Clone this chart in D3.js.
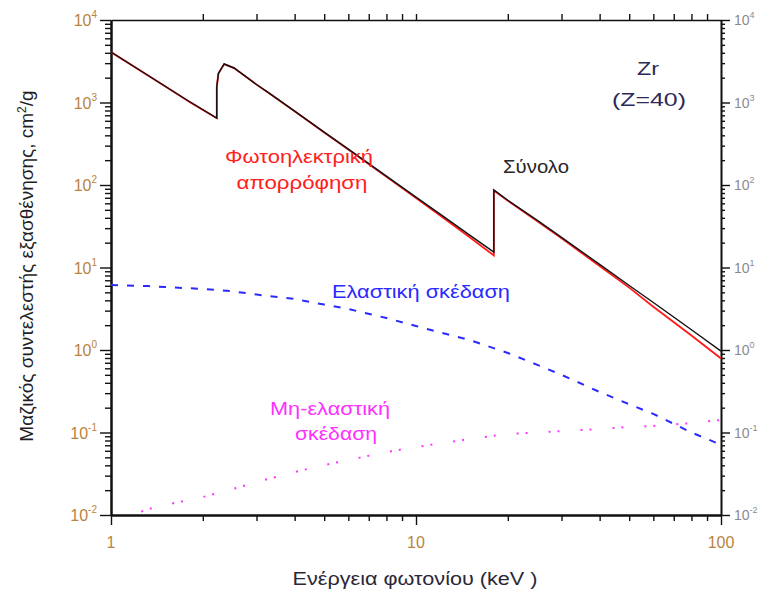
<!DOCTYPE html>
<html>
<head>
<meta charset="utf-8">
<script src="https://cdn.jsdelivr.net/npm/d3@7"></script>
<style>
  html, body { margin: 0; padding: 0; background: #fff; }
  svg { display: block; }
  text { font-family: "Liberation Sans", Arial, sans-serif; }
</style>
</head>
<body>
<div id="chart"></div>
<script>
// ---------- Data ----------
// Photon energy (keV) for photoelectric / total curves (edges repeated)
const energyPE = [1, 1.5, 1.816, 2.222, 2.222, 2.25, 2.35, 2.532, 3, 3.3, 4, 5, 6, 8, 10, 12, 15, 17.998, 17.998, 20, 25, 30, 40, 50, 60, 80, 100];
// Photoelectric absorption (cm^2/g)
const photoelectric = [4080, 1580, 1010, 645, 1535, 2243, 2922, 2612, 1647, 1295, 783, 434, 269, 125.5, 69.3, 42.7, 23.3, 14.0, 85.8, 64.5, 36.3, 22.6, 10.4, 5.7, 3.35, 1.5, 0.79];
// Total attenuation (cm^2/g)
const totalAtt = [4090, 1585, 1014, 649, 1542, 2250, 2930, 2620, 1652, 1300, 787, 438, 272, 128, 71.3, 44.3, 24.7, 15.4, 87, 65.3, 37.3, 23.2, 10.9, 6.06, 3.76, 1.76, 0.97];

// Photon energy (keV) for scattering curves
const energyScat = [1, 1.33, 1.5, 2, 2.5, 3, 4, 5, 6, 8, 10, 15, 20, 25, 30, 40, 50, 60, 80, 100];
// Elastic (coherent) scattering
const elastic = [6.14, 5.95, 5.8, 5.5, 5.15, 4.7, 4.15, 3.55, 3.14, 2.44, 1.95, 1.32, 0.92, 0.66, 0.5, 0.31, 0.22, 0.168, 0.1, 0.071];
// Inelastic (incoherent) scattering
const inelastic = [0.0082, 0.0118, 0.0132, 0.0165, 0.0206, 0.0251, 0.0332, 0.0403, 0.0464, 0.058, 0.0667, 0.0834, 0.096, 0.1, 0.104, 0.11, 0.117, 0.12, 0.13, 0.142];

// Tick labels
const xTickValues = [1, 10, 100];
const xTickLabels = ["1", "10", "100"];
const yTickExponents = [-2, -1, 0, 1, 2, 3, 4];

// ---------- Layout ----------
const W = 765, H = 593;
const pL = 111, pR = 721, pT = 20, pB = 515;

const svg = d3.select("#chart").append("svg")
  .attr("width", W).attr("height", H);

const x = d3.scaleLog().domain([1, 100]).range([pL, pR]);
const y = d3.scaleLog().domain([0.01, 10000]).range([pB, pT]);

// minor / major ticks
const xMinor = [];
for (let d = 1; d < 100; d *= 10) for (let m = 2; m <= 9; m++) xMinor.push(d * m);
const yMinor = [];
yTickExponents.slice(0, -1).forEach(e => { for (let m = 2; m <= 9; m++) yMinor.push(m * Math.pow(10, e)); });
const yMajor = yTickExponents.map(e => Math.pow(10, e));

function styleAxis(g, w) {
  g.selectAll("path.domain").attr("stroke", "#111").attr("stroke-width", w);
  g.selectAll(".tick line").attr("stroke", "#111").attr("stroke-width", 1.4);
  g.selectAll(".tick text").remove();
}

// Left axis
svg.append("g").attr("transform", `translate(${pL},0)`)
  .call(d3.axisLeft(y).tickValues(yMinor).tickSize(6).tickSizeOuter(0).tickFormat(""))
  .call(g => styleAxis(g, 2));
svg.append("g").attr("transform", `translate(${pL},0)`)
  .call(d3.axisLeft(y).tickValues(yMajor).tickSize(11).tickSizeOuter(0).tickFormat(""))
  .call(g => styleAxis(g, 2));
// Right axis
svg.append("g").attr("transform", `translate(${pR},0)`)
  .call(d3.axisRight(y).tickValues(yMinor).tickSize(4).tickSizeOuter(0).tickFormat(""))
  .call(g => styleAxis(g, 1.6));
svg.append("g").attr("transform", `translate(${pR},0)`)
  .call(d3.axisRight(y).tickValues(yMajor).tickSize(9).tickSizeOuter(0).tickFormat(""))
  .call(g => styleAxis(g, 1.6));
// Bottom axis
svg.append("g").attr("transform", `translate(0,${pB})`)
  .call(d3.axisBottom(x).tickValues(xMinor).tickSize(6).tickSizeOuter(0).tickFormat(""))
  .call(g => styleAxis(g, 2));
svg.append("g").attr("transform", `translate(0,${pB})`)
  .call(d3.axisBottom(x).tickValues(xTickValues).tickSize(10).tickSizeOuter(0).tickFormat(""))
  .call(g => styleAxis(g, 2));
// Top axis
svg.append("g").attr("transform", `translate(0,${pT})`)
  .call(d3.axisTop(x).tickValues(xMinor.concat([10])).tickSize(6).tickSizeOuter(0).tickFormat(""))
  .call(g => styleAxis(g, 1.6));

// Tick labels
const labelColor = "#b98440";
yTickExponents.forEach(e => {
  const t = svg.append("text")
    .attr("x", 97).attr("y", y(Math.pow(10, e)) + 6)
    .attr("text-anchor", "end")
    .attr("font-size", 16).attr("fill", labelColor);
  t.append("tspan").text("10");
  t.append("tspan").attr("dy", -8).attr("font-size", 10).text(String(e));

  const r = svg.append("text")
    .attr("x", 734).attr("y", y(Math.pow(10, e)) + 5)
    .attr("text-anchor", "start")
    .attr("font-size", 14).attr("fill", "#8a8a90")
    .attr("font-family", "'Liberation Sans Narrow', 'Liberation Sans', sans-serif");
  r.append("tspan").text("10");
  r.append("tspan").attr("dy", -7).attr("font-size", 9).text(String(e));
});
xTickValues.forEach((v, i) => {
  svg.append("text")
    .attr("x", x(v)).attr("y", 548)
    .attr("text-anchor", "middle")
    .attr("font-size", 16).attr("fill", labelColor)
    .text(xTickLabels[i]);
});

// Clip
svg.append("clipPath").attr("id", "plotclip")
  .append("rect").attr("x", pL).attr("y", pT)
  .attr("width", pR - pL).attr("height", pB - pT);

const plot = svg.append("g").attr("clip-path", "url(#plotclip)");

const lineGen = (xs) => d3.line().x((d, i) => x(xs[i])).y(d => y(d));

// Inelastic (dotted, magenta)
plot.append("path").datum(inelastic)
  .attr("d", lineGen(energyScat))
  .attr("fill", "none").attr("stroke", "#ff33ff")
  .attr("stroke-width", 2).attr("stroke-dasharray", "2,7,2,21");

// Elastic (dashed, blue)
plot.append("path").datum(elastic)
  .attr("d", lineGen(energyScat))
  .attr("fill", "none").attr("stroke", "#2a2aff")
  .attr("stroke-width", 2).attr("stroke-dasharray", "7,9");

// Photoelectric (red)
plot.append("path").datum(photoelectric)
  .attr("d", lineGen(energyPE))
  .attr("fill", "none").attr("stroke", "#ff1a1a")
  .attr("stroke-width", 1.8);

// Total (black)
plot.append("path").datum(totalAtt)
  .attr("d", lineGen(energyPE))
  .attr("fill", "none").attr("stroke", "#111")
  .attr("stroke-width", 1.4);

// Annotations
function label(txt, cx, by, color, size, len) {
  const t = svg.append("text")
    .attr("x", cx).attr("y", by)
    .attr("text-anchor", "middle")
    .attr("font-size", size).attr("fill", color)
    .text(txt);
  if (len) t.attr("textLength", len).attr("lengthAdjust", "spacingAndGlyphs");
  return t;
}
label("Zr", 648, 75, "#2e2a55", 18, 22);
label("(Z=40)", 649, 106, "#2e2a55", 18, 74);
label("Φωτοηλεκτρική", 299, 163, "#ff2020", 18, 148);
label("απορρόφηση", 302, 189, "#ff2020", 18, 131);
label("Σύνολο", 536, 173, "#2a2626", 18, 66);
label("Ελαστική σκέδαση", 421, 298, "#2a2aff", 18, 178);
label("Μη-ελαστική", 330, 415, "#ff30ff", 18, 120);
label("σκέδαση", 336, 440, "#ff30ff", 18, 82);

// Axis titles
label("Ενέργεια φωτονίου (keV )", 415, 585, "#2a2838", 18, 245);

const yl = svg.append("text")
  .attr("transform", "translate(33,266) rotate(-90)")
  .attr("text-anchor", "middle")
  .attr("font-size", 19).attr("fill", "#1e1e26");
yl.append("tspan").text("Μαζικός συντελεστής εξασθένησης, cm");
yl.append("tspan").attr("dy", -7).attr("font-size", 12).text("2");
yl.append("tspan").attr("dy", 7).text("/g");
</script>
</body>
</html>
